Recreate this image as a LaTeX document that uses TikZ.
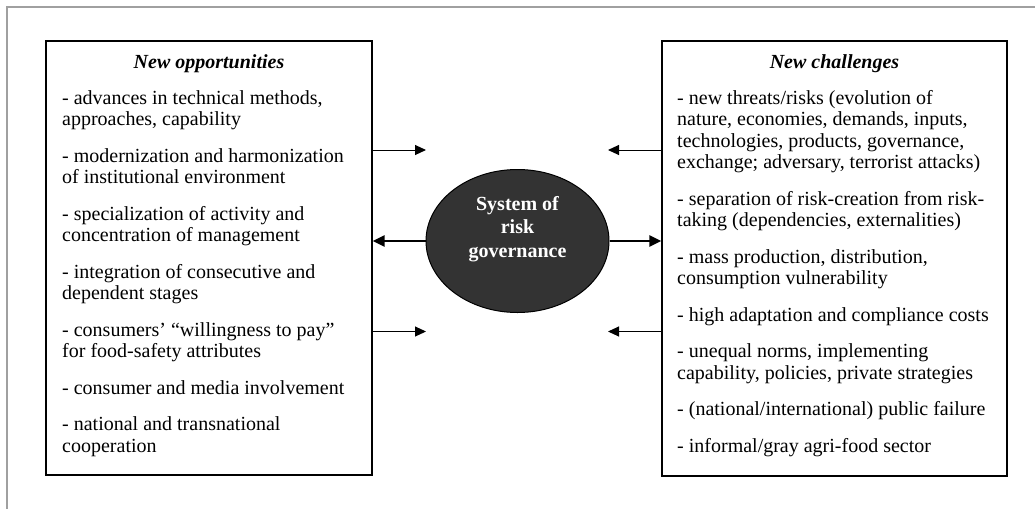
\documentclass[tikz,border=0pt]{standalone}
\usepackage{fontspec}
\setmainfont{Liberation Serif}
\usetikzlibrary{arrows.meta,shapes.geometric}
\definecolor{framegray}{HTML}{A0A0A0}
\definecolor{ellfill}{HTML}{333333}
\tikzset{
  box/.style={draw=black, line width=1.3pt, minimum width=326pt, minimum height=434pt, inner sep=0pt},
  txt/.style={anchor=base west, inner sep=0pt, font=\fontsize{20}{21.5}\selectfont},
  ttl/.style={anchor=base, inner sep=0pt, font=\fontsize{20}{21.5}\selectfont\bfseries\itshape},
  thinarrow/.style={line width=1pt, -{Triangle[length=11pt,width=10pt]}},
  thickarrow/.style={line width=2.4pt, -{Triangle[length=12pt,width=11pt]}},
  govern/.style={ellipse, draw=black, line width=1pt, fill=ellfill, minimum width=183pt, minimum height=143pt, inner sep=0pt},
  gtext/.style={align=center, inner sep=0pt, text=white, font=\fontsize{20}{23.5}\selectfont\bfseries}
}
\begin{document}
\begin{tikzpicture}[x=1pt,y=-1pt]
\useasboundingbox (0,0) rectangle (1035,509);
% outer frame (cropped)
\draw[framegray, line width=1.2pt] (1035,7) -- (7,7) -- (7,509);
% boxes
\node[box] (L) at (209,258) {};
\node[box, minimum width=345pt, minimum height=435pt] (R) at (834.5,258.5) {};
% titles
\node[ttl] (Lt) at (209,68) {New opportunities};
\node[ttl] (Rt) at (834.5,68) {New challenges};
% left items
\foreach \n/\y/\t in {1/104/{- advances in technical methods,},
                      2/125.5/{approaches, capability},
                      3/162/{- modernization and harmonization},
                      4/183.5/{of institutional environment},
                      5/220/{- specialization of activity and},
                      6/241.5/{concentration of management},
                      7/278/{- integration of consecutive and},
                      8/299.5/{dependent stages},
                      9/336/{- consumers’ “willingness to pay”},
                      10/357.5/{for food-safety attributes},
                      11/394/{- consumer and media involvement},
                      12/430.5/{- national and transnational},
                      13/452/{cooperation}}
  \node[txt] (l\n) at (62,\y) {\t};
% right items
\foreach \n/\y/\t in {1/104/{- new threats/risks (evolution of},
                      2/125.5/{nature, economies, demands, inputs,},
                      3/147/{technologies, products, governance,},
                      4/168.5/{exchange; adversary, terrorist attacks)},
                      5/205/{- separation of risk-creation from risk-},
                      6/226.5/{taking (dependencies, externalities)},
                      7/263/{- mass production, distribution,},
                      8/284.5/{consumption vulnerability},
                      9/321/{- high adaptation and compliance costs},
                      10/357.5/{- unequal norms, implementing},
                      11/379/{capability, policies, private strategies},
                      12/415.5/{- (national/international) public failure},
                      13/452/{- informal/gray agri-food sector}}
  \node[txt] (r\n) at (677,\y) {\t};
% central ellipse
\node[govern] (E) at (517.5,241) {};
\node[gtext] (Et) at (517.5,229) {System of\\risk\\governance};
% arrow end points
\coordinate (tl) at (426,150);
\coordinate (tr) at (608,150);
\coordinate (bl) at (426,331.5);
\coordinate (br) at (608,331.5);
% arrows
\draw[thinarrow] (L.east |- tl) -- (tl);
\draw[thinarrow] (L.east |- bl) -- (bl);
\draw[thinarrow] (R.west |- tr) -- (tr);
\draw[thinarrow] (R.west |- br) -- (br);
\draw[thickarrow] (E.west) -- (L.east |- E.west);
\draw[thickarrow] (E.east) -- (R.west |- E.east);
\end{tikzpicture}
\end{document}
